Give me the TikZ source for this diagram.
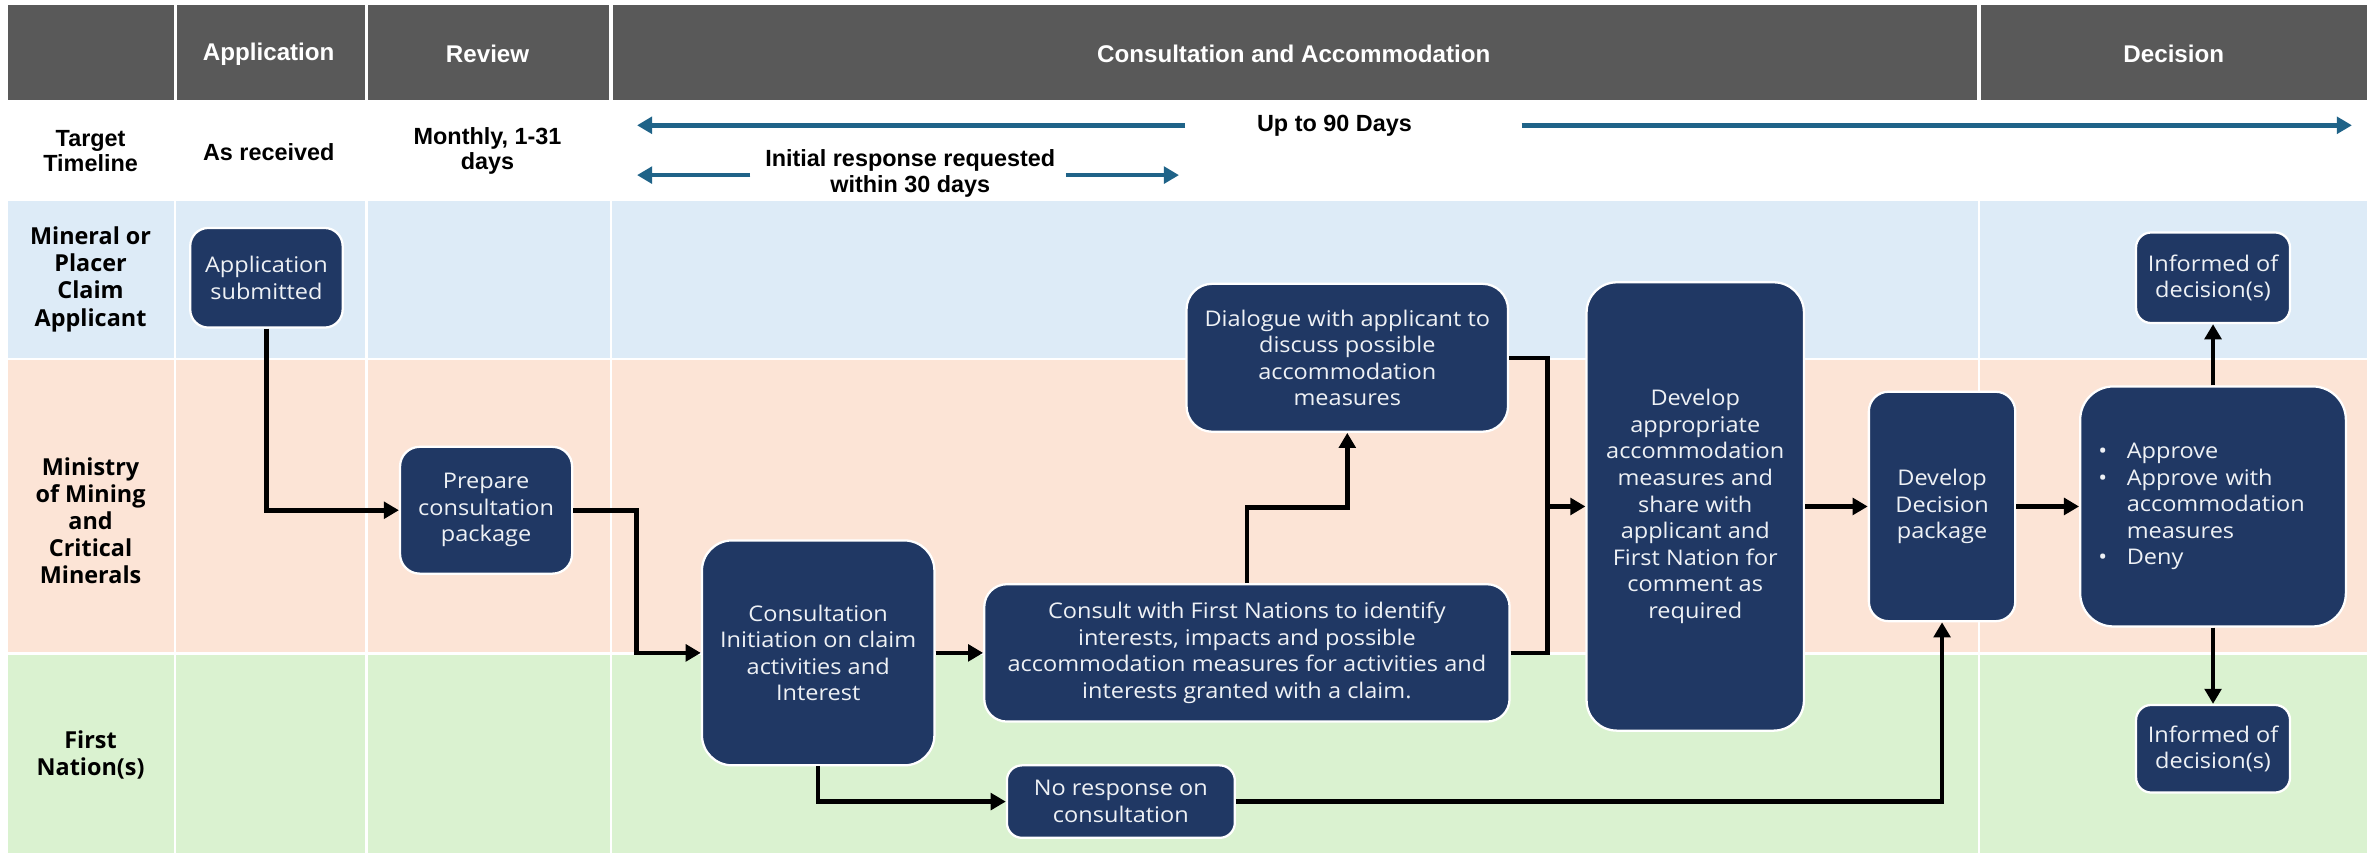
\documentclass[tikz,border=0pt]{standalone}
\usepackage{fontspec}
\setmainfont{Open Sans}[FakeStretch=1.09]
\newfontfamily\narrowfont{Liberation Sans}
\newfontfamily\lanefont{Open Sans}
\usetikzlibrary{arrows.meta,calc}

\definecolor{hdrgray}{HTML}{595959}
\definecolor{laneA}{HTML}{DDEBF7}
\definecolor{laneB}{HTML}{FCE4D6}
\definecolor{laneC}{HTML}{DAF2D0}
\definecolor{navy}{HTML}{203864}
\definecolor{boxtext}{HTML}{EEF1F5}
\definecolor{tlblue}{HTML}{1F6388}

\tikzset{
  hdrcell/.style={fill=hdrgray, draw=none},
  hdrtext/.style={text=white, font=\narrowfont\bfseries\fontsize{16}{18}\selectfont},
  tltext/.style={text=black, align=center, font=\narrowfont\bfseries\fontsize{15.5}{17}\selectfont},
  lanelabel/.style={text=black, align=center, font=\lanefont\bfseries\fontsize{15.5}{18}\selectfont},
  box/.style={draw=white, line width=1.5pt, fill=navy, text=boxtext, align=center,
    inner sep=0pt, rounded corners=#1, font=\fontsize{14.3}{17.6}\selectfont},
  box/.default=10pt,
  conn/.style={draw=black, line width=3pt, -{Triangle[length=10pt,width=11pt]}},
  plain/.style={draw=black, line width=3pt},
  tlarrow/.style={draw=tlblue, line width=3pt, -{Triangle[length=10pt,width=11pt]}},
  sep/.style={draw=white, line width=1.6pt}
}

\begin{document}
\begin{tikzpicture}[x=1pt, y=-1pt]
\useasboundingbox (0,0) rectangle (1568,565);
\fill[white] (0,0) rectangle (1568,565);

% header band
\fill[hdrcell] (5,3) rectangle (115,66);
\fill[hdrcell] (117,3) rectangle (241.5,66);
\fill[hdrcell] (244,3) rectangle (403.5,66);
\fill[hdrcell] (406,3) rectangle (1309.5,66);
\fill[hdrcell] (1312,3) rectangle (1568,66);
\node[hdrtext] (hApp) at (178,36) {Application};
\node[hdrtext] (hRev) at (323,36) {Review};
\node[hdrtext] (hCons) at (857,36) {Consultation and Accommodation};
\node[hdrtext] (hDec) at (1440,36) {Decision};

% swim lanes
\fill[laneA] (5,133) rectangle (1568,238);
\fill[laneB] (5,238) rectangle (1568,433);
\fill[laneC] (5,433) rectangle (1568,565);
\draw[sep] (5,238) -- (1568,238);
\draw[sep] (5,433) -- (1568,433);
\foreach \x in {116,242.8,404.8,1310.8} \draw[sep] (\x,133) -- (\x,565);

% timeline row
\node[tltext] (tTarget) at (60,100) {Target\\Timeline};
\node[tltext] (tApp) at (178,101) {As received};
\node[tltext] (tRev) at (323,100) {Monthly, 1-31\\days};
\node[tltext] (tUpto) at (884,83) {Up to 90 Days};
\node[tltext] (tInit) at (603,115) {Initial response requested\\within 30 days};
\coordinate (upL) at (422,83);
\coordinate (upLs) at (785,83);
\coordinate (upRs) at (1008,83);
\coordinate (upR) at (1558,83);
\coordinate (inL) at (422,116);
\coordinate (inLs) at (497,116);
\coordinate (inRs) at (706,116);
\coordinate (inR) at (781,116);
\draw[tlarrow] (upLs) -- (upL);
\draw[tlarrow] (upRs) -- (upR);
\draw[tlarrow] (inLs) -- (inL);
\draw[tlarrow] (inRs) -- (inR);

% lane labels
\node[lanelabel] (lApplicant) at (60,185) {Mineral or\\Placer\\Claim\\Applicant};
\node[lanelabel] (lMinistry) at (60,345) {Ministry\\of Mining\\and\\Critical\\Minerals};
\node[lanelabel] (lFN) at (60,500) {First\\Nation(s)};

% process boxes
\node[box=12pt, minimum width=101pt, minimum height=66pt] (app) at (176.5,184) {Application\\submitted};
\node[box=13pt, minimum width=114pt, minimum height=84pt] (prep) at (322,338) {Prepare\\consultation\\package};
\node[box=20pt, minimum width=154pt, minimum height=149pt] (init) at (542,432.5) {Consultation\\Initiation on claim\\activities and\\Interest};
\node[box=15pt, minimum width=348pt, minimum height=91pt] (consult) at (826,432.5) {Consult with First Nations to identify\\interests, impacts and possible\\accommodation measures for activities and\\interests granted with a claim.};
\node[box=17pt, minimum width=213pt, minimum height=98pt] (dialog) at (892.5,237) {Dialogue with applicant to\\discuss possible\\accommodation\\measures};
\node[box, minimum width=151pt, minimum height=48pt] (noresp) at (742.5,531) {No response on\\consultation};
\node[box=20pt, minimum width=144pt, minimum height=297pt] (develop) at (1123,335.5) {Develop\\appropriate\\accommodation\\measures and\\share with\\applicant and\\First Nation for\\comment as\\required};
\node[box=13pt, minimum width=97pt, minimum height=152pt] (decpkg) at (1286.5,335.5) {Develop\\Decision\\package};
\node[box=22pt, minimum width=176pt, minimum height=159pt, text width=152pt, align=left] (decide) at (1466,335.5)
  {\begin{tabular}{@{}l@{\hspace{13pt}}l@{}}\textbullet & Approve\\ \textbullet & Approve with\\ & accommodation\\ & measures\\ \textbullet & Deny\end{tabular}};
\node[box, minimum width=102pt, minimum height=60pt] (inftop) at (1466,184) {Informed of\\decision(s)};
\node[box, minimum width=102pt, minimum height=58pt] (infbot) at (1466,496) {Informed of\\decision(s)};

% connectors
\draw[conn] (app.south) |- (prep.west);
\draw[conn] (prep.east) -- ++(42,0) |- (init.west);
\draw[conn] (init.east) -- (init.east -| consult.west);
\draw[conn] (consult.north) -- ++(0,-50) -| (dialog.south);
\coordinate (jn) at ([xshift=-25pt]develop.west);
\draw[plain] (dialog.east) -| (jn);
\draw[plain] (consult.east) -| (jn);
\draw[conn] (jn) -- (develop.west);
\draw[conn] (develop.east) -- (develop.east -| decpkg.west);
\draw[conn] (decpkg.east) -- (decpkg.east -| decide.west);
\draw[conn] (decide.north) -- (inftop.south);
\draw[conn] (decide.south) -- (infbot.north);
\draw[conn] (init.south) |- (noresp.west);
\draw[conn] (noresp.east) -| (decpkg.south);
\end{tikzpicture}
\end{document}
